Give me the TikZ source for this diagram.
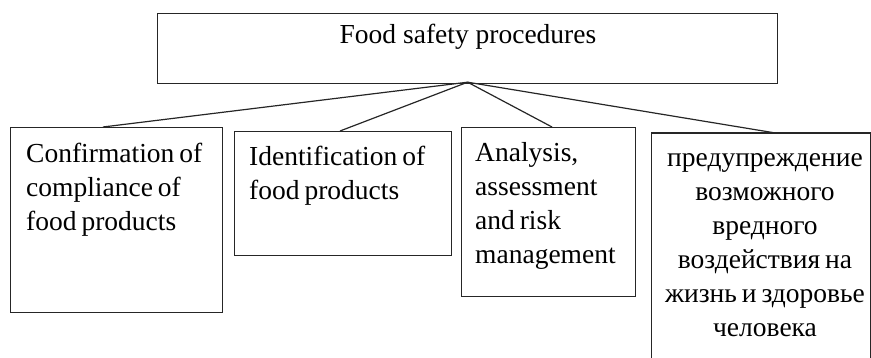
\documentclass[tikz,border=0pt]{standalone}
\usepackage{fontspec}
\setmainfont{Liberation Serif}
\newcommand\myboxfont{\fontsize{27.5}{34}\selectfont\spaceskip=0.18em plus 0.05em\relax}
\begin{document}
\begin{tikzpicture}[x=1pt,y=-1pt,
  box/.style={draw=black!85,line width=1.2pt,inner sep=0pt,anchor=north west},
  txt/.style={inner sep=0pt,font=\myboxfont},
  conn/.style={draw=black!85,line width=1.2pt}]
\useasboundingbox (0,0) rectangle (871,358);
% top box
\node[box,minimum width=620pt,minimum height=70pt] (top) at (157,13) {};
\node[inner sep=0pt,font=\fontsize{27.5}{32}\selectfont,anchor=base] (ttop) at (468,43.5) {Food safety procedures};
% box 1
\node[box,minimum width=212pt,minimum height=185pt] (b1) at (10,127) {};
\node[txt,align=left,anchor=north west] (t1) at (26,142.5) {\vphantom{I}Confirmation of\\compliance of\\food products};
% box 2
\node[box,minimum width=217pt,minimum height=124pt] (b2) at (234,131) {};
\node[txt,align=left,anchor=north west] (t2) at (249,145.5) {\vphantom{I}Identification of\\food products};
% box 3
\node[box,minimum width=174pt,minimum height=169pt] (b3) at (461,127) {};
\node[txt,align=left,anchor=north west] (t3) at (475,142.5) {\vphantom{I}Analysis,\\assessment\\and risk\\management};
% box 4 (runs past bottom edge)
\node[inner sep=0pt,anchor=north west,minimum width=219pt,minimum height=226pt] (b4) at (651.5,133) {};
\draw[conn] (b4.south west) -- (b4.north west) -- (b4.north east) -- (b4.south east);
\node[txt,align=center,anchor=north] (t4) at (765,148) {\vphantom{I}предупреждение\\возможного\\вредного\\воздействия на\\жизнь и здоровье\\человека};
% connectors
\coordinate (apex) at ([yshift=2pt]top.south);
\draw[conn] (apex) -- ([xshift=93pt]b1.north west);
\draw[conn] (apex) -- ([xshift=106pt]b2.north west);
\draw[conn] (apex) -- ([xshift=91pt]b3.north west);
\draw[conn] (apex) -- ([xshift=124pt]b4.north west);
\end{tikzpicture}
\end{document}
